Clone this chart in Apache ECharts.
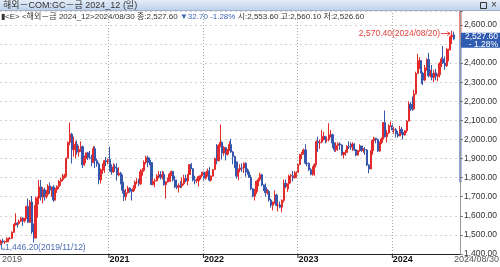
<!DOCTYPE html>
<html>
<head>
<meta charset="utf-8">
<script src="https://cdn.jsdelivr.net/npm/echarts@6/dist/echarts.min.js"></script>
<style>
  html, body { margin: 0; padding: 0; background: #fff; }
  #chart { width: 500px; height: 267px; }
</style>
</head>
<body>
<div id="chart"></div>
<script>
// 주봉 데이터 : [시가, 종가, 저가, 고가]
const firstWeek = [2019, 10, 13]   // 2019/11/13 주
const ohlc = [
  [1456,1468,1446.2,1475],[1468,1463,1456,1480],[1463,1465,1453,1470],[1465,1465,1460,1487],
  [1465,1481,1462,1485],[1481,1482,1475,1489],[1482,1514,1480,1519],[1514,1552,1510,1556],
  // 2020
  [1552,1562,1550,1613],[1562,1560,1538,1566],[1560,1572,1553,1580],[1572,1589,1568,1593],
  [1589,1573,1548,1592],[1573,1586,1565,1589],[1586,1649,1584,1653],[1649,1566,1562,1691],
  [1566,1672,1573,1683],[1672,1516,1505,1704],[1516,1484,1460,1560],[1484,1654,1482,1700],
  [1654,1693,1590,1702],[1693,1752,1660,1788],[1752,1698,1680,1788],[1698,1736,1666,1750],
  [1736,1700,1680,1748],[1700,1713,1690,1735],[1713,1756,1700,1765],[1756,1735,1715,1775],
  [1735,1751,1700,1752],[1751,1683,1673,1760],[1683,1737,1680,1746],[1737,1753,1720,1760],
  [1753,1781,1740,1788],[1781,1790,1758,1800],[1790,1801,1780,1820],[1801,1810,1795,1820],
  [1810,1902,1805,1905],[1902,1985,1900,1990],[1985,2028,1970,2089],[2028,1947,1874,2035],
  [1947,1947,1910,2015],[1947,1975,1902,1990],[1975,1934,1920,1994],[1934,1948,1910,1967],
  [1948,1962,1935,1990],[1962,1867,1850,1968],[1867,1900,1862,1915],[1900,1930,1875,1930],
  [1930,1906,1892,1935],[1906,1905,1895,1940],[1905,1879,1860,1920],[1879,1952,1878,1965],
  [1952,1889,1850,1965],[1889,1872,1857,1900],[1872,1788,1765,1880],[1788,1840,1770,1848],
  [1840,1840,1820,1875],[1840,1889,1825,1892],[1889,1883,1860,1908],[1883,1895,1870,1900],
  // 2021
  [1895,1850,1832,1962],[1850,1830,1815,1870],[1830,1856,1825,1875],[1856,1850,1830,1870],
  [1850,1814,1785,1875],[1814,1823,1807,1855],[1823,1777,1765,1830],[1777,1734,1717,1816],
  [1734,1700,1677,1740],[1700,1721,1680,1740],[1721,1745,1716,1757],[1745,1733,1720,1750],
  [1733,1729,1680,1740],[1729,1744,1724,1760],[1744,1777,1730,1785],[1777,1777,1765,1797],
  [1777,1768,1755,1795],[1768,1831,1762,1845],[1831,1838,1810,1850],[1838,1881,1830,1890],
  [1881,1905,1870,1915],[1905,1892,1855,1915],[1892,1879,1865,1905],[1879,1764,1761,1880],
  [1764,1781,1760,1795],[1781,1784,1750,1795],[1784,1810,1780,1818],[1810,1815,1795,1835],
  [1815,1802,1790,1834],[1802,1817,1790,1835],[1817,1763,1758,1832],[1763,1778,1690,1782],
  [1778,1781,1773,1800],[1781,1818,1780,1825],[1818,1833,1808,1836],[1833,1788,1780,1835],
  [1788,1751,1745,1810],[1751,1750,1740,1790],[1750,1758,1722,1770],[1758,1757,1745,1782],
  [1757,1768,1746,1800],[1768,1796,1760,1815],[1796,1783,1775,1815],[1783,1817,1760,1820],
  [1817,1868,1815,1870],[1868,1846,1845,1877],[1846,1788,1780,1850],[1788,1783,1765,1810],
  [1783,1784,1772,1795],[1784,1805,1753,1810],[1805,1810,1790,1815],[1810,1829,1800,1830],
  // 2022
  [1829,1797,1785,1832],[1797,1817,1790,1830],[1817,1835,1805,1848],[1835,1787,1780,1855],
  [1787,1808,1780,1812],[1808,1842,1805,1845],[1842,1900,1842,1905],[1900,1889,1870,1976],
  [1889,1968,1885,1975],[1968,1985,1960,2078],[1985,1929,1895,1990],[1929,1958,1915,1965],
  [1958,1923,1890,1960],[1923,1945,1915,1950],[1945,1974,1940,1990],[1974,1934,1930,2003],
  [1934,1911,1870,1940],[1911,1882,1850,1915],[1882,1808,1795,1885],[1808,1842,1786,1848],
  [1842,1851,1828,1870],[1851,1850,1830,1875],[1850,1875,1825,1880],[1875,1840,1805,1880],
  [1840,1829,1815,1848],[1829,1801,1800,1835],[1801,1742,1735,1815],[1742,1703,1697,1745],
  [1703,1727,1680,1740],[1727,1781,1715,1785],[1781,1791,1755,1800],[1791,1815,1780,1825],
  [1815,1762,1755,1820],[1762,1749,1730,1765],[1749,1721,1700,1770],[1721,1728,1712,1740],
  [1728,1683,1675,1735],[1683,1655,1643,1690],[1655,1672,1628,1675],[1672,1709,1663,1733],
  [1709,1655,1650,1715],[1655,1657,1623,1670],[1657,1645,1640,1675],[1645,1681,1618,1686],
  [1681,1770,1670,1790],[1770,1754,1745,1790],[1754,1768,1725,1770],[1768,1809,1740,1815],
  [1809,1810,1770,1820],[1810,1800,1780,1835],[1800,1804,1795,1835],[1804,1826,1800,1833],
  // 2023
  [1826,1869,1825,1875],[1869,1921,1865,1925],[1921,1928,1898,1935],[1928,1945,1920,1952],
  [1945,1876,1870,1975],[1876,1874,1860,1895],[1874,1842,1835,1880],[1842,1817,1812,1850],
  [1817,1855,1810,1860],[1855,1868,1810,1875],[1868,1989,1865,1995],[1989,1983,1935,2015],
  [1983,1986,1950,2000],[1986,2011,1980,2050],[2011,2015,1995,2040],[2015,1999,1980,2020],
  [1999,1999,1985,2015],[1999,2025,1990,2085],[2025,2025,2010,2050],[2025,1981,1955,2030],
  [1981,1946,1936,1985],[1946,1969,1935,1985],[1969,1977,1940,1985],[1977,1971,1945,1985],
  [1971,1921,1915,1975],[1921,1929,1900,1935],[1929,1932,1915,1945],[1932,1964,1930,1970],
  [1964,1962,1950,1990],[1962,1960,1945,1985],[1960,1976,1940,1985],[1976,1946,1940,1980],
  [1946,1918,1912,1950],[1918,1942,1915,1945],[1942,1966,1935,1975],[1966,1942,1935,1965],
  [1942,1946,1930,1955],[1946,1945,1920,1960],[1945,1866,1860,1950],[1866,1845,1823,1870],
  [1845,1941,1845,1945],[1941,1994,1920,2000],[1994,2006,1975,2015],[2006,1999,1980,2010],
  [1999,1940,1935,2005],[1940,1984,1935,1990],[1984,2003,1975,2010],[2003,2089,2000,2090],
  [2089,2014,2010,2152],[2014,2034,1985,2050],[2034,2069,2030,2080],[2069,2071,2065,2095],
  // 2024
  [2071,2050,2040,2085],[2050,2051,2030,2065],[2051,2029,2010,2060],[2029,2018,2010,2045],
  [2018,2053,2030,2070],[2053,2038,2025,2065],[2038,2024,2000,2045],[2024,2046,2020,2050],
  [2046,2096,2035,2100],[2096,2185,2095,2200],[2185,2161,2150,2195],[2161,2160,2150,2225],
  [2160,2238,2155,2260],[2238,2345,2235,2355],[2345,2374,2345,2448],[2374,2413,2370,2431],
  [2413,2347,2291,2415],[2347,2311,2285,2355],[2311,2375,2305,2390],[2375,2419,2360,2425],
  [2419,2334,2325,2454],[2334,2345,2325,2365],[2345,2325,2310,2390],[2325,2349,2300,2365],
  [2349,2331,2310,2370],[2331,2339,2305,2345],[2339,2397,2325,2405],[2397,2421,2380,2430],
  [2421,2400,2395,2490],[2400,2386,2365,2435],[2386,2470,2380,2480],[2470,2472,2410,2475],
  [2472,2538,2465,2545],[2538,2547,2500,2570.4],[2547,2527.6,2520,2565]
]

// 축 범위, 눈금
const xMin = new Date(2019, 10, 9).getTime()
const xMax = new Date(2024, 8, 20).getTime()
const yMin = 1400, yMax = 2673
const yearTicks = [[2021, '2021'], [2022, '2022'], [2023, '2023'], [2024, '2024']]
const startLabel = '2019', endLabel = '2024/08/30'

// 헤더 / 표시값
const titleText = '해외－COM:GC－금 2024_12 (일)'
const lastClose = 2527.6, lastRate = '- 1.28%'
const highMark = { value: 2570.4, date: '2024/08/20' }
const lowMark = { value: 1446.2, date: '2019/11/12' }
const axisRedBand = [lastClose, yMax]
const axisBlueBand = [1775, lastClose]

const UP = '#e32b2b', DOWN = '#3557ae'
const FONT = '"Liberation Sans", "Noto Sans CJK KR", sans-serif'

const weekDates = ohlc.map((_, i) => new Date(firstWeek[0], firstWeek[1], firstWeek[2] + 7 * i).getTime())
const candles = ohlc.map((r, i) => [weekDates[i]].concat(r))

const fmt = v => v.toLocaleString('en-US', { minimumFractionDigits: 2, maximumFractionDigits: 2 })

const chart = echarts.init(document.getElementById('chart'))

chart.setOption({
  animation: false,
  grid: { left: 0, right: 40, top: 11, bottom: 13 },
  xAxis: {
    type: 'time', min: xMin, max: xMax,
    axisLine: { lineStyle: { color: '#222', width: 1 } },
    axisTick: { show: false }, axisLabel: { show: false }, splitLine: { show: false }
  },
  yAxis: {
    type: 'value', position: 'right', min: yMin, max: yMax, interval: 100,
    axisLine: { show: true, lineStyle: { color: '#9a9a9a' } },
    axisTick: { show: true, length: 3, lineStyle: { color: '#777' } },
    axisLabel: {
      margin: 4, fontSize: 8.5, color: '#333', fontFamily: FONT,
      formatter: v => (v % 100 === 0 && v <= 2600) ? fmt(v) : ''
    },
    splitLine: { lineStyle: { color: '#d2d2d2', type: [2, 3] } }
  },
  series: [{
    type: 'candlestick',
    data: candles,
    barWidth: 1.7,
    itemStyle: { color: UP, color0: DOWN, borderColor: UP, borderColor0: DOWN, borderWidth: 1 },
    markLine: {
      silent: true, symbol: 'none', label: { show: false },
      lineStyle: { color: '#a8a8a8', type: [1, 2], width: 1 },
      data: yearTicks.map(y => ({ xAxis: new Date(y[0], 0, 1).getTime() }))
    }
  }]
})

const px = (t, v) => chart.convertToPixel({ gridIndex: 0 }, [t, v])

const g = []
// 타이틀 바
g.push({ type: 'rect', shape: { x: 0, y: 0, width: 500, height: 11 }, style: {
  fill: new echarts.graphic.LinearGradient(0, 0, 0, 1, [{ offset: 0, color: '#e4edf8' }, { offset: 1, color: '#bcd0e9' }]) } })
g.push({ type: 'line', shape: { x1: 0, y1: 10.5, x2: 500, y2: 10.5 }, style: { stroke: '#9fb2cb' } })
g.push({ type: 'text', x: 3, y: 5.5, style: { text: titleText, fontSize: 9, fontFamily: FONT, fill: '#333', verticalAlign: 'middle' } })
g.push({ type: 'rect', shape: { x: 480.5, y: 2.5, width: 6, height: 6 }, style: { fill: 'none', stroke: '#333' } })
g.push({ type: 'text', x: 494, y: 5.5, style: { text: '×', fontSize: 10, fontFamily: FONT, fill: '#333', align: 'center', verticalAlign: 'middle' } })

// 시세 헤더
g.push({ type: 'text', x: 1, y: 17, z: 10, style: {
  text: '{k|▮<E> <해외－금 2024_12>2024/08/30 종:2,527.60 }{b|▼32.70 -1.28%}{k| 시:2,553.60 고:2,560.10 저:2,526.60}',
  verticalAlign: 'middle',
  rich: {
    k: { fontSize: 8, fontFamily: FONT, fill: '#333' },
    b: { fontSize: 8, fontFamily: FONT, fill: '#3c64b4' }
  }
} })

// x축 라벨
const yBase = 254
g.push({ type: 'text', x: 2, y: yBase + 1.5, style: { text: startLabel, fontSize: 9, fontFamily: FONT, fill: '#555' } })
yearTicks.forEach(y => {
  const p = px(new Date(y[0], 0, 1).getTime(), yMin)
  g.push({ type: 'line', shape: { x1: p[0] + 0.5, y1: p[1], x2: p[0] + 0.5, y2: p[1] + 4 }, style: { stroke: '#222' } })
  g.push({ type: 'text', x: p[0] + 1, y: p[1] + 1.5, style: { text: y[1], fontSize: 9, fontWeight: 'bold', fontFamily: FONT, fill: '#111' } })
})
g.push({ type: 'text', x: 499, y: yBase + 1.5, style: { text: endLabel, fontSize: 9, fontFamily: FONT, fill: '#555', align: 'right' } })

// 우측 축 색 띠
const axR = px(xMax, axisRedBand[0])[0] + 0.5
g.push({ type: 'line', shape: { x1: axR, y1: px(xMax, axisRedBand[1])[1], x2: axR, y2: px(xMax, axisRedBand[0])[1] }, style: { stroke: '#e0302c', lineWidth: 2 } })
g.push({ type: 'line', shape: { x1: axR, y1: px(xMax, axisBlueBand[1])[1], x2: axR, y2: px(xMax, axisBlueBand[0])[1] }, style: { stroke: '#3a62b6', lineWidth: 2 } })

// 현재가 박스
const cy = px(xMax, lastClose)[1]
g.push({ type: 'rect', z: 20, shape: { x: 461, y: cy - 6, width: 39, height: 15 }, style: { fill: '#2f5bb0' } })
g.push({ type: 'text', z: 21, x: 498, y: cy - 5.5, style: { text: fmt(lastClose) + '\n' + lastRate, fontSize: 8.5, lineHeight: 7.5, fontFamily: FONT, fill: '#fff', align: 'right' } })

// 최고가 표시
const hiIdx = ohlc.findIndex(r => r[3] === highMark.value)
const hp = px(weekDates[hiIdx], highMark.value)
g.push({ type: 'text', x: hp[0] - 12, y: hp[1] + 3, style: { text: fmt(highMark.value) + '(' + highMark.date + ')', fontSize: 8.5, fontFamily: FONT, fill: '#e2403a', align: 'right', verticalAlign: 'middle' } })
g.push({ type: 'polyline', shape: { points: [[hp[0] - 11, hp[1] + 3], [hp[0] - 2, hp[1] + 3]] }, style: { stroke: '#e2403a', fill: 'none' } })
g.push({ type: 'polyline', shape: { points: [[hp[0] - 5, hp[1] + 1], [hp[0] - 2, hp[1] + 3], [hp[0] - 5, hp[1] + 5]] }, style: { stroke: '#e2403a', fill: 'none' } })

// 최저가 표시
const loIdx = ohlc.findIndex(r => r[2] === lowMark.value)
const lp = px(weekDates[loIdx], lowMark.value)
g.push({ type: 'polyline', shape: { points: [[lp[0] + 0.5, lp[1] - 2], [lp[0] + 0.5, lp[1] + 4], [lp[0] + 4, lp[1] + 4]] }, style: { stroke: '#4a6cb4', fill: 'none' } })
g.push({ type: 'text', x: lp[0] + 4, y: lp[1] + 2, style: { text: fmt(lowMark.value) + '(' + lowMark.date + ')', fontSize: 8.5, fontFamily: FONT, fill: '#4a6cb4', verticalAlign: 'middle' } })

chart.setOption({ graphic: g })
</script>
</body>
</html>
